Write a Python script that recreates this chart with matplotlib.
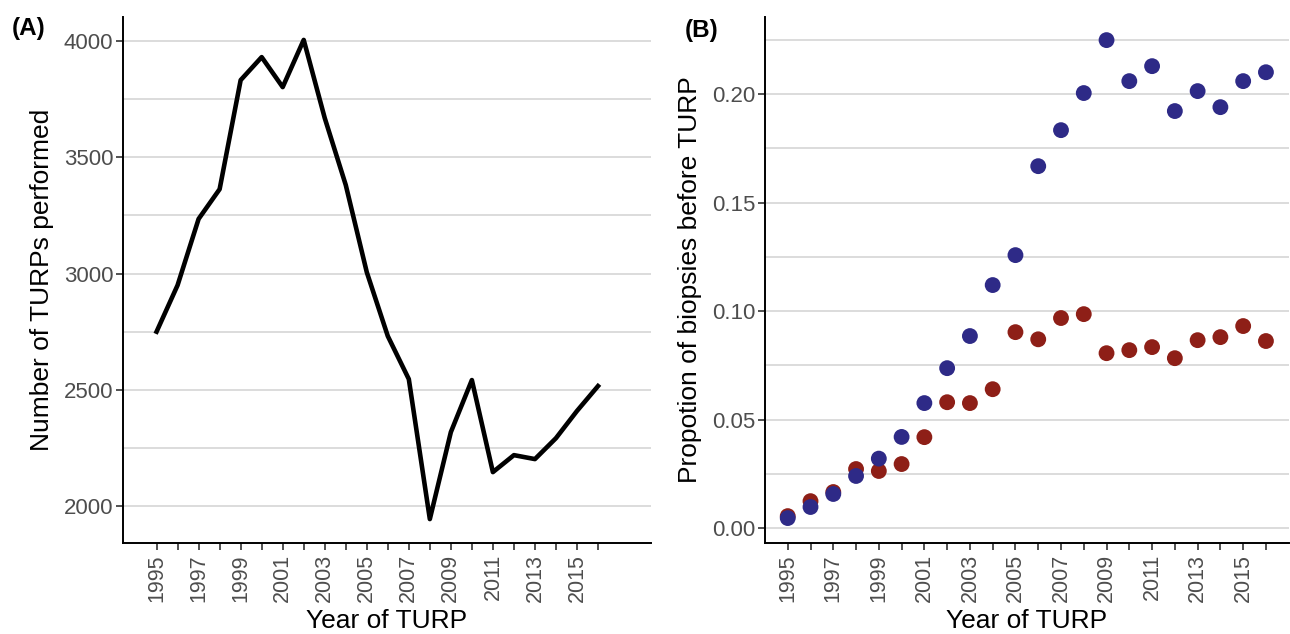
import numpy as np
import matplotlib
matplotlib.use("Agg")
import matplotlib.pyplot as plt
from matplotlib.ticker import MultipleLocator, FixedLocator, FormatStrFormatter

plt.rcParams['font.family'] = ['Liberation Sans', 'DejaVu Sans']

# Data
years = list(range(1995, 2017))
turps = [2750, 2950, 3235, 3363, 3832, 3931, 3802, 4005, 3669, 3381, 3006,
         2731, 2546, 1944, 2318, 2542, 2146, 2219, 2202, 2292, 2409, 2516]
prop_red = [0.0055, 0.0124, 0.0166, 0.0272, 0.0263, 0.0295, 0.0419, 0.0580,
            0.0576, 0.0640, 0.0903, 0.0870, 0.0968, 0.0986, 0.0806, 0.0820,
            0.0834, 0.0783, 0.0866, 0.0880, 0.0931, 0.0862]
prop_blue = [0.0046, 0.0097, 0.0157, 0.0240, 0.0320, 0.0420, 0.0576, 0.0737,
             0.0885, 0.1120, 0.1258, 0.1668, 0.1834, 0.2005, 0.2249, 0.2060,
             0.2129, 0.1922, 0.2014, 0.1940, 0.2060, 0.2101]
year_labels = [str(y) if y % 2 == 1 else "" for y in years]

fig = plt.figure(figsize=(12.9, 6.34), dpi=100)
axA = fig.add_axes([0.0953, 0.1435, 0.409, 0.8295])
axB = fig.add_axes([0.593, 0.1435, 0.406, 0.8295])

grid_col = "#DCDCDC"
tick_col = "#4D4D4D"


def style(ax):
    for s in ["top", "right"]:
        ax.spines[s].set_visible(False)
    for s in ["left", "bottom"]:
        ax.spines[s].set_linewidth(1.4)
        ax.spines[s].set_color("black")
    ax.yaxis.grid(True, which="both", color=grid_col, linewidth=1.4)
    ax.set_axisbelow(True)
    ax.xaxis.set_major_locator(FixedLocator(years))
    ax.set_xticklabels(year_labels, rotation=90, fontsize=15.5, color=tick_col)
    ax.tick_params(axis="both", length=5, width=1.2, color="#333333", pad=3)
    ax.tick_params(axis="y", which="minor", length=0)
    ax.tick_params(axis="y", labelsize=16, labelcolor=tick_col, pad=2)
    ax.set_xlabel("Year of TURP", fontsize=19, labelpad=5)


# Panel A
axA.plot(years, turps, color="black", linewidth=3.3)
axA.set_xlim(1993.4, 2018.5)
axA.set_ylim(1841, 4103)
axA.yaxis.set_major_locator(MultipleLocator(500))
axA.yaxis.set_minor_locator(MultipleLocator(250))
style(axA)
axA.set_ylabel("Number of TURPs performed", fontsize=19, labelpad=7)
fig.text(0.009, 0.945, "(A)", fontsize=17.5, fontweight="bold")

# Panel B
axB.scatter(years, prop_red, s=130, color="#8E1F17", edgecolors="none", zorder=3)
axB.scatter(years, prop_blue, s=130, color="#2E2A87", edgecolors="none", zorder=4)
axB.set_xlim(1994.0, 2017.0)
axB.set_ylim(-0.0069, 0.2355)
axB.yaxis.set_major_locator(MultipleLocator(0.05))
axB.yaxis.set_minor_locator(MultipleLocator(0.025))
axB.yaxis.set_major_formatter(FormatStrFormatter("%.2f"))
style(axB)
axB.set_ylabel("Propotion of biopsies before TURP", fontsize=19, labelpad=7)
fig.text(0.531, 0.942, "(B)", fontsize=17.5, fontweight="bold")

fig.savefig("out.png", dpi=100)
